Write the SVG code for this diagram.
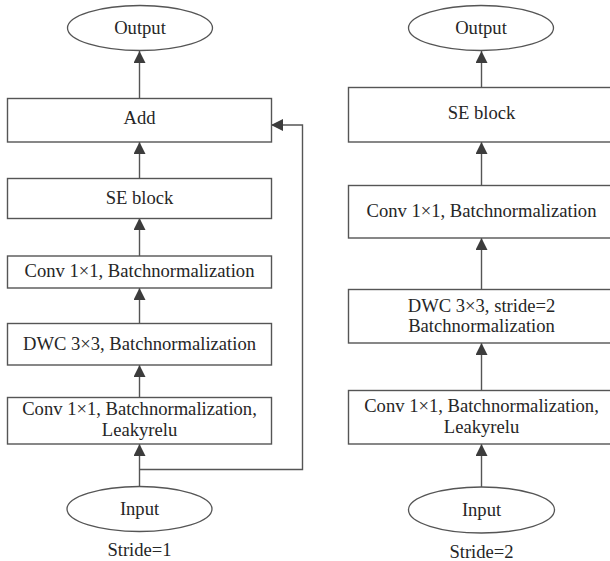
<svg xmlns="http://www.w3.org/2000/svg" width="610" height="561" viewBox="0 0 610 561">
  <style>
    .box { fill: #ffffff; stroke: #555555; stroke-width: 1.4; }
    .term { fill: #ffffff; stroke: #555555; stroke-width: 1.3; }
    .lbl { font-family: "Liberation Serif", "Times New Roman", serif; font-size: 18.6px; fill: #262626; text-anchor: middle; }
    .wire { fill: none; stroke: #555555; stroke-width: 1.4; }
  </style>
  <defs>
    <marker id="arrow" markerUnits="userSpaceOnUse" markerWidth="12" markerHeight="12" viewBox="0 0 12 12" refX="12" refY="6" orient="auto">
      <path d="M0,0 L12,6 L0,12 Z" fill="#3c3c3c"/>
    </marker>
  </defs>
  <rect width="610" height="561" fill="#ffffff"/>

  <!-- connectors -->
  <g id="connectors">
    <!-- stride 1 branch -->
    <line class="wire" x1="139.5" y1="98" x2="139.5" y2="51" marker-end="url(#arrow)"/>
    <line class="wire" x1="139.5" y1="178" x2="139.5" y2="142" marker-end="url(#arrow)"/>
    <line class="wire" x1="139.5" y1="256" x2="139.5" y2="218" marker-end="url(#arrow)"/>
    <line class="wire" x1="139.5" y1="323" x2="139.5" y2="288" marker-end="url(#arrow)"/>
    <line class="wire" x1="139.5" y1="397" x2="139.5" y2="365" marker-end="url(#arrow)"/>
    <line class="wire" x1="139.5" y1="487" x2="139.5" y2="444" marker-end="url(#arrow)"/>
    <polyline class="wire" points="139.5,469.5 302.5,469.5 302.5,125 271,125" marker-end="url(#arrow)"/>
    <!-- stride 2 branch -->
    <line class="wire" x1="481.5" y1="87" x2="481.5" y2="51" marker-end="url(#arrow)"/>
    <line class="wire" x1="481.5" y1="185" x2="481.5" y2="142" marker-end="url(#arrow)"/>
    <line class="wire" x1="481.5" y1="289" x2="481.5" y2="238" marker-end="url(#arrow)"/>
    <line class="wire" x1="481.5" y1="390" x2="481.5" y2="343" marker-end="url(#arrow)"/>
    <line class="wire" x1="481.5" y1="487" x2="481.5" y2="444" marker-end="url(#arrow)"/>
  </g>

  <!-- stride 1 block -->
  <g id="s1-output">
    <ellipse class="term" cx="140" cy="28" rx="72.5" ry="22.5"/>
    <text class="lbl" x="140" y="34">Output</text>
  </g>
  <g id="s1-add">
    <rect class="box" x="7.5" y="98.5" width="264" height="43.5"/>
    <text class="lbl" x="139.5" y="124">Add</text>
  </g>
  <g id="s1-se">
    <rect class="box" x="7.5" y="178.5" width="264" height="40"/>
    <text class="lbl" x="139.5" y="204">SE block</text>
  </g>
  <g id="s1-conv">
    <rect class="box" x="7.5" y="256" width="264" height="32"/>
    <text class="lbl" x="139.5" y="277">Conv 1×1, Batchnormalization</text>
  </g>
  <g id="s1-dwc">
    <rect class="box" x="7.5" y="323.5" width="264" height="41.5"/>
    <text class="lbl" x="139.5" y="350">DWC 3×3, Batchnormalization</text>
  </g>
  <g id="s1-conv-leaky">
    <rect class="box" x="7.5" y="397.5" width="264" height="46.5"/>
    <text class="lbl" x="139.5" y="415">Conv 1×1, Batchnormalization,</text>
    <text class="lbl" x="139.5" y="436">Leakyrelu</text>
  </g>
  <g id="s1-input">
    <ellipse class="term" cx="139.5" cy="509" rx="72.5" ry="22.5"/>
    <text class="lbl" x="139.5" y="515">Input</text>
  </g>
  <text class="lbl" x="139.5" y="556">Stride=1</text>

  <!-- stride 2 block -->
  <g id="s2-output">
    <ellipse class="term" cx="481" cy="28" rx="72.5" ry="22.5"/>
    <text class="lbl" x="481" y="34">Output</text>
  </g>
  <g id="s2-se">
    <rect class="box" x="348.5" y="87.5" width="267" height="54.5"/>
    <text class="lbl" x="481.5" y="119">SE block</text>
  </g>
  <g id="s2-conv">
    <rect class="box" x="348.5" y="185.5" width="267" height="52.5"/>
    <text class="lbl" x="481.5" y="217">Conv 1×1, Batchnormalization</text>
  </g>
  <g id="s2-dwc">
    <rect class="box" x="348.5" y="289.5" width="267" height="53.5"/>
    <text class="lbl" x="481.5" y="312">DWC 3×3, stride=2</text>
    <text class="lbl" x="481.5" y="332">Batchnormalization</text>
  </g>
  <g id="s2-conv-leaky">
    <rect class="box" x="348.5" y="390.5" width="267" height="53.5"/>
    <text class="lbl" x="481.5" y="412">Conv 1×1, Batchnormalization,</text>
    <text class="lbl" x="481.5" y="433">Leakyrelu</text>
  </g>
  <g id="s2-input">
    <ellipse class="term" cx="481.5" cy="510" rx="73" ry="23"/>
    <text class="lbl" x="481.5" y="516">Input</text>
  </g>
  <text class="lbl" x="481.5" y="558">Stride=2</text>
</svg>
